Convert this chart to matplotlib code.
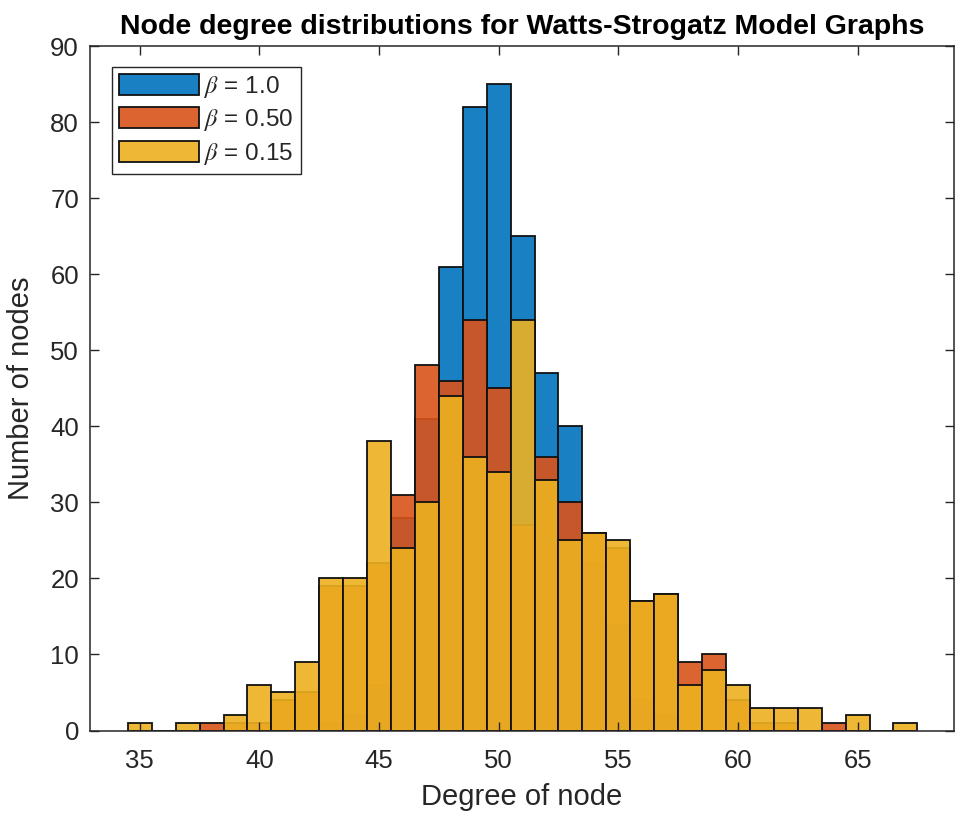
import matplotlib
matplotlib.use("Agg")
import matplotlib.pyplot as plt
from matplotlib.colors import to_rgba
import numpy as np

# Degree bins (integer bin method, width 1)
degrees = list(range(35, 68))

# counts per degree, series drawn in this order
beta_10 = {43: 1, 44: 2, 45: 6, 46: 28, 47: 41, 48: 61, 49: 82, 50: 85, 51: 65,
           52: 47, 53: 40, 54: 22, 55: 14, 56: 4, 57: 2}
beta_05 = {38: 1, 39: 1, 40: 1, 41: 4, 42: 5, 43: 19, 44: 19, 45: 22, 46: 31,
           47: 48, 48: 46, 49: 54, 50: 45, 51: 27, 52: 36, 53: 30, 54: 26,
           55: 24, 56: 17, 57: 18, 58: 9, 59: 10, 60: 4, 61: 1, 62: 1, 64: 1}
beta_015 = {35: 1, 37: 1, 39: 2, 40: 6, 41: 5, 42: 9, 43: 20, 44: 20, 45: 38,
            46: 24, 47: 30, 48: 44, 49: 36, 50: 34, 51: 54, 52: 33, 53: 25,
            54: 26, 55: 25, 56: 17, 57: 18, 58: 6, 59: 8, 60: 6, 61: 3, 62: 3,
            63: 3, 65: 2, 67: 1}

labels = [r"$\beta$ = 1.0", r"$\beta$ = 0.50", r"$\beta$ = 0.15"]
colors = ["#0072BD", "#D95319", "#EDB120"]
series = [beta_10, beta_05, beta_015]

plt.rcParams["font.family"] = ["Liberation Sans", "DejaVu Sans"]
plt.rcParams["mathtext.fontset"] = "stix"

W, H = 956, 816
fig = plt.figure(figsize=(W / 100, H / 100), dpi=100)
ax = fig.add_axes([90 / W, (H - 730.5) / H, (954 - 90) / W, (730.5 - 46) / H])

axcol = "#262626"
handles = []
for s, c, lab in zip(series, colors, labels):
    vals = [s.get(d, 0) for d in degrees]
    bars = ax.bar(degrees, vals, width=1.0, align="center",
                  facecolor=to_rgba(c, 0.9), edgecolor="#111111",
                  linewidth=1.3, label=lab)
    handles.append(bars)

ax.set_xlim(32.92, 69.03)
ax.set_ylim(0, 90)
ax.set_xticks([35, 40, 45, 50, 55, 60, 65])
ax.set_yticks(range(0, 91, 10))
ax.tick_params(direction="in", length=6.5, width=1.0, colors=axcol,
               labelsize=18.5, top=True, right=True)
ax.tick_params(axis="x", pad=13)
ax.tick_params(axis="y", pad=8)
for sp in ax.spines.values():
    sp.set_color(axcol)
    sp.set_linewidth(1.1)

ax.set_title("Node degree distributions for Watts-Strogatz Model Graphs",
             fontsize=20.5, fontweight="bold", color="black", pad=9)
ax.set_xlabel("Degree of node", fontsize=21, color=axcol)
ax.set_ylabel("Number of nodes", fontsize=21, color=axcol)
ax.xaxis.set_label_coords(0.5, -0.076)
ax.yaxis.set_label_coords(-0.064, 0.5)

leg = ax.legend(loc="upper left", bbox_to_anchor=(21.7 / 864, 1 - 20.7 / 684.5),
                fontsize=17.5, handlelength=3.3, handleheight=0.95,
                labelspacing=0.3, handletextpad=0.2, borderpad=0.3,
                borderaxespad=0, fancybox=False, framealpha=1)
leg.get_frame().set_edgecolor(axcol)
leg.get_frame().set_linewidth(1.0)
for t in leg.get_texts():
    t.set_color(axcol)

fig.savefig("out.png", dpi=100)
